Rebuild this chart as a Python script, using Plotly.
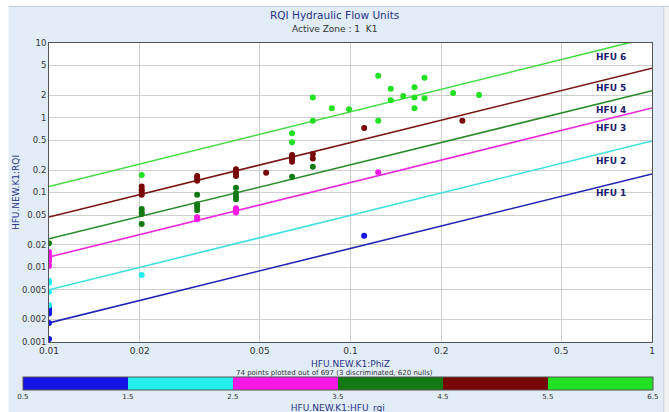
import math
import plotly.graph_objects as go

# ---- HFU boundary lines: RQI at PhiZ = 0.01 and PhiZ = 1 ----
hfu_names = ["HFU 1", "HFU 2", "HFU 3", "HFU 4", "HFU 5", "HFU 6"]
hfu_line_x = [0.01, 1.0]
hfu_rqi_left = [0.0018, 0.0050, 0.0137, 0.024, 0.047, 0.12]
hfu_rqi_right = [0.177, 0.49, 1.35, 2.3, 4.6, 12.0]
hfu_line_colors = ["#2222b4", "#3ee0e0", "#ec2adc", "#2a8a2a", "#7a1414", "#44dd44"]
hfu_label_x = 0.64
hfu_label_y = [0.098, 0.264, 0.73, 1.27, 2.5, 6.5]

# ---- data points: PhiZ, RQI, HFU unit ----
phiz = [
    0.01, 0.01, 0.01, 0.01, 0.01, 0.01,
    0.01, 0.01, 0.01, 0.01,
    0.01, 0.01, 0.01, 0.01, 0.01, 0.01,
    0.01,
    0.0203, 0.0203, 0.0203, 0.0203, 0.0203, 0.0203, 0.0203, 0.0203, 0.0203, 0.0203,
    0.031, 0.031, 0.031, 0.031, 0.031, 0.031, 0.031, 0.031, 0.031,
    0.0417, 0.0417, 0.0417, 0.0417, 0.0417, 0.0417, 0.0417, 0.0417, 0.0417, 0.0417, 0.0417,
    0.0525,
    0.064, 0.064, 0.064, 0.064, 0.064, 0.064, 0.064,
    0.075, 0.075, 0.075, 0.075, 0.075,
    0.0867, 0.0989, 0.1236, 0.1236, 0.136, 0.136, 0.1496, 0.163, 0.163, 0.163,
    0.176, 0.176, 0.219, 0.267,
    0.111, 0.235, 0.1236, 0.111,
]
rqi = [
    0.0011, 0.0018, 0.0024, 0.0026, 0.0028, 0.0030,
    0.0031, 0.0047, 0.0062, 0.0066,
    0.0104, 0.012, 0.013, 0.014, 0.015, 0.016,
    0.021,
    0.171, 0.12, 0.11, 0.103, 0.093, 0.060, 0.055, 0.0515, 0.038, 0.0079,
    0.166, 0.155, 0.144, 0.093, 0.0695, 0.0646, 0.058, 0.0466, 0.0438,
    0.204, 0.19, 0.177, 0.166, 0.116, 0.0975, 0.088, 0.081, 0.0615, 0.057, 0.054,
    0.184,
    0.62, 0.47, 0.318, 0.296, 0.278, 0.258, 0.163,
    1.87, 0.91, 0.327, 0.286, 0.221,
    1.34, 1.30, 3.66, 0.91, 2.45, 1.71, 1.95, 2.55, 1.87, 1.34,
    3.43, 1.82, 2.14, 2.01,
    0.73, 0.91, 0.186, 0.0264,
]
hfu_unit = [
    1, 1, 1, 1, 1, 1,
    2, 2, 2, 2,
    3, 3, 3, 3, 3, 3,
    4,
    6, 5, 5, 5, 5, 4, 4, 4, 4, 2,
    5, 5, 5, 4, 4, 4, 4, 3, 3,
    5, 5, 5, 5, 4, 4, 4, 4, 3, 3, 3,
    5,
    6, 6, 5, 5, 5, 5, 4,
    6, 6, 5, 5, 4,
    6, 6, 6, 6, 6, 6, 6, 6, 6, 6,
    6, 6, 6, 6,
    5, 5, 3, 1,
]

unit_colors = ["#1414e6", "#22eeee", "#fa18e6", "#137a13", "#780606", "#22e022"]
cbar_ticks = [0.5, 1.5, 2.5, 3.5, 4.5, 5.5, 6.5]

x_ticks = [0.01, 0.02, 0.05, 0.1, 0.2, 0.5, 1]
y_ticks = [0.001, 0.002, 0.005, 0.01, 0.02, 0.05, 0.1, 0.2, 0.5, 1, 2, 5, 10]

FONT = "DejaVu Sans"
NAVY = "#26358a"

fig = go.Figure()

for i, name in enumerate(hfu_names):
    fig.add_trace(go.Scatter(
        x=hfu_line_x, y=[hfu_rqi_left[i], hfu_rqi_right[i]],
        mode="lines", line=dict(color=hfu_line_colors[i], width=1.6),
        name=name, showlegend=False, hoverinfo="skip",
    ))

# discrete colour scale, one block per unit
scale = []
n = len(unit_colors)
for i, c in enumerate(unit_colors):
    scale.append([i / n, c])
    scale.append([(i + 1) / n, c])

fig.add_trace(go.Scatter(
    x=phiz, y=rqi, mode="markers", showlegend=False,
    marker=dict(
        size=6, color=hfu_unit, cmin=0.5, cmax=6.5, colorscale=scale,
        showscale=True,
        colorbar=dict(
            orientation="h", x=0.479, xanchor="center",
            y=-0.117, yanchor="top",
            len=630, lenmode="pixels", thickness=13, thicknessmode="pixels",
            outlinecolor="#555555", outlinewidth=1,
            tickvals=cbar_ticks, ticktext=[str(t) for t in cbar_ticks],
            ticks="", tickfont=dict(size=7, color="#333333", family=FONT),
            title=dict(text="HFU.NEW.K1:HFU_rqi", side="bottom",
                       font=dict(size=9, color=NAVY, family=FONT)),
            bgcolor="rgba(0,0,0,0)", xpad=0, ypad=0,
        ),
    ),
))

annotations = []
for name, ly in zip(hfu_names, hfu_label_y):
    annotations.append(dict(
        x=math.log10(hfu_label_x), y=math.log10(ly),
        xref="x", yref="y", text="<b>%s</b>" % name, showarrow=False,
        xanchor="left", yanchor="middle",
        font=dict(size=9, color="#1c1c6e", family=FONT),
    ))

annotations += [
    dict(x=0.4735, y=1.095, xref="paper", yref="paper", text="RQI Hydraulic Flow Units",
         showarrow=False, xanchor="center", yanchor="middle",
         font=dict(size=10.5, color=NAVY, family=FONT)),
    dict(x=0.4735, y=1.048, xref="paper", yref="paper", text="Active Zone : 1  K1",
         showarrow=False, xanchor="center", yanchor="middle",
         font=dict(size=9, color="#333333", family=FONT)),
    dict(x=0.4735, y=-0.104, xref="paper", yref="paper",
         text="74 points plotted out of 697 (3 discriminated, 620 nulls)",
         showarrow=False, xanchor="center", yanchor="middle",
         font=dict(size=7, color="#333333", family=FONT)),
]

fig.update_xaxes(
    type="log", range=[-2, 0], tickvals=x_ticks, ticktext=[str(t) for t in x_ticks],
    showgrid=True, gridcolor="#cfcfcf", gridwidth=1,
    showline=True, linecolor="#555555", linewidth=1, mirror=True,
    ticks="", tickfont=dict(size=9, color="#333333", family=FONT),
    title=dict(text="HFU.NEW.K1:PhiZ", standoff=5,
               font=dict(size=9, color=NAVY, family=FONT)),
    zeroline=False,
)
fig.update_yaxes(
    type="log", range=[-3, 1], tickvals=y_ticks, ticktext=[str(t) for t in y_ticks],
    showgrid=True, gridcolor="#cfcfcf", gridwidth=1,
    showline=True, linecolor="#555555", linewidth=1, mirror=True,
    ticks="", tickfont=dict(size=8.5, color="#333333", family=FONT),
    title=dict(text="HFU.NEW.K1:RQI", standoff=0,
               font=dict(size=9, color=NAVY, family=FONT)),
    zeroline=False,
)

# light panel with a thin white frame around it
shapes = [
    dict(type="rect", xref="paper", yref="paper", x0=-0.09, x1=-0.067, y0=-0.25, y1=1.2,
         fillcolor="white", line=dict(width=0), layer="below"),
    dict(type="rect", xref="paper", yref="paper", x0=-0.09, x1=1.05, y0=1.122, y1=1.2,
         fillcolor="white", line=dict(width=0), layer="below"),
    dict(type="line", xref="paper", yref="paper", x0=-0.067, x1=1.05, y0=1.122, y1=1.122,
         line=dict(color="#c8cfd8", width=1)),
    dict(type="rect", xref="paper", yref="paper", x0=1.0195, x1=1.05, y0=-0.25, y1=1.122,
         fillcolor="#f3f3f3", line=dict(color="#c8cfd8", width=1), layer="below"),
]

fig.update_layout(
    width=669, height=412,
    margin=dict(l=49, r=17, t=43, b=70, autoexpand=False),
    paper_bgcolor="#e2ecf6", plot_bgcolor="white",
    annotations=annotations, shapes=shapes,
    font=dict(family=FONT),
)

fig.write_html("out.html")
